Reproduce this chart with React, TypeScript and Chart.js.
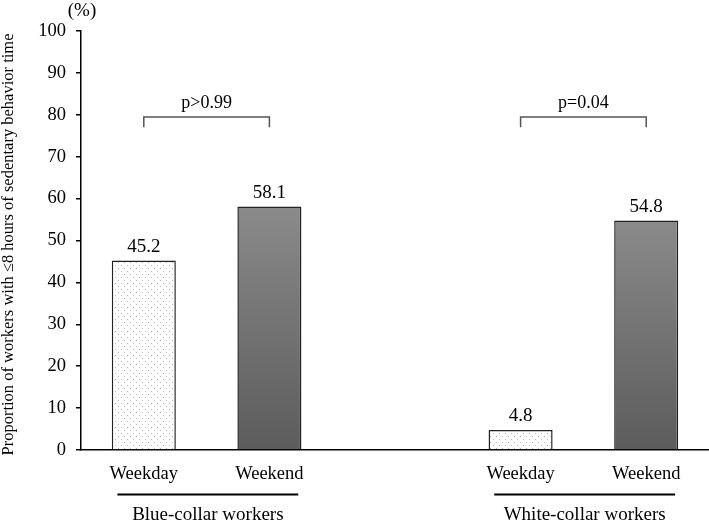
import React, { useEffect, useRef } from 'react';
import { Chart, registerables } from 'chart.js';
Chart.register(...registerables);

const FONT = "'Liberation Serif', 'Times New Roman', serif";

const categories = ['Weekday', 'Weekend', '', 'Weekday', 'Weekend'];
const values: (number | null)[] = [45.2, 58.1, null, 4.8, 54.8];
const groupNames = ['Blue-collar workers', 'White-collar workers'];
const groupMembers = [[0, 1], [3, 4]];
const pLabels = ['p>0.99', 'p=0.04'];
const bracketTop = 79.5;
const bracketFoot = 77.0;
const yMin = 0;
const yMax = 100;
const yStep = 10;
const yTitle = 'Proportion of workers with \u22648 hours of sedentary behavior time';
const yUnit = '(%)';

export default function App() {
  const ref = useRef<HTMLCanvasElement>(null);
  useEffect(() => {
    const canvas = ref.current!;
    const tile = document.createElement('canvas');
    tile.width = 6;
    tile.height = 6;
    const tc = tile.getContext('2d')!;
    tc.fillStyle = '#ffffff';
    tc.fillRect(0, 0, 6, 6);
    tc.fillStyle = '#b8b8b8';
    tc.fillRect(1, 1, 1, 1);
    tc.fillRect(4, 4, 1, 1);
    const ctx0 = canvas.getContext('2d')!;
    const pattern = ctx0.createPattern(tile, 'repeat');

    const annot = {
      id: 'annot',
      afterDraw(chart: any) {
        const { ctx, chartArea } = chart;
        const x = chart.scales.x;
        const y = chart.scales.y;
        ctx.save();
        ctx.fillStyle = '#000';
        // y title
        ctx.save();
        ctx.translate(13, (chartArea.top + chartArea.bottom) / 2 + 4);
        ctx.rotate(-Math.PI / 2);
        ctx.font = `16.5px ${FONT}`;
        ctx.textAlign = 'center';
        ctx.textBaseline = 'alphabetic';
        ctx.fillText(yTitle, 0, 0);
        ctx.restore();
        // unit
        ctx.font = `19px ${FONT}`;
        ctx.textAlign = 'center';
        ctx.textBaseline = 'alphabetic';
        ctx.fillText(yUnit, 82, 16);
        // value labels
        ctx.font = `19px ${FONT}`;
        values.forEach((v, i) => {
          if (v == null) return;
          ctx.fillText(v.toFixed(1), x.getPixelForValue(i), y.getPixelForValue(v) - 8.5);
        });
        // brackets
        ctx.strokeStyle = '#555';
        ctx.lineWidth = 1.5;
        groupMembers.forEach((g, k) => {
          const x1 = x.getPixelForValue(g[0]);
          const x2 = x.getPixelForValue(g[1]);
          const yt = y.getPixelForValue(bracketTop);
          const yf = y.getPixelForValue(bracketFoot);
          ctx.beginPath();
          ctx.moveTo(x1, yf);
          ctx.lineTo(x1, yt);
          ctx.lineTo(x2, yt);
          ctx.lineTo(x2, yf);
          ctx.stroke();
          ctx.font = `18px ${FONT}`;
          ctx.fillText(pLabels[k], (x1 + x2) / 2, yt - 9);
        });
        // group lines and names
        ctx.strokeStyle = '#000';
        ctx.lineWidth = 2;
        const slot = x.width / categories.length;
        groupMembers.forEach((g, k) => {
          const x1 = x.getPixelForValue(g[0]) - slot * 0.21;
          const x2 = x.getPixelForValue(g[1]) + slot * 0.23;
          ctx.beginPath();
          ctx.moveTo(x1, 494.5);
          ctx.lineTo(x2, 494.5);
          ctx.stroke();
          ctx.font = `19px ${FONT}`;
          ctx.fillText(groupNames[k], (x1 + x2) / 2, 520);
        });
        ctx.restore();
      },
    };

    const chart = new Chart(canvas, {
      type: 'bar',
      data: {
        labels: categories,
        datasets: [
          {
            data: values as any,
            backgroundColor: (c: any) => {
              const i = c.dataIndex;
              if (categories[i] === 'Weekday') return pattern;
              const ch = c.chart;
              const ys = ch.scales && ch.scales.y;
              if (!ys || !ch.chartArea) return '#777';
              const v = values[i] ?? 0;
              const g = ch.ctx.createLinearGradient(0, ys.getPixelForValue(v), 0, ys.getPixelForValue(0));
              g.addColorStop(0, '#8a8a8a');
              g.addColorStop(1, '#5c5c5c');
              return g;
            },
            borderColor: '#222',
            borderWidth: 1.5,
            barPercentage: 0.51,
            categoryPercentage: 1,
          },
        ],
      },
      options: {
        responsive: false,
        animation: false,
        layout: { padding: { top: 31, left: 0, right: 0, bottom: 0 } },
        plugins: { legend: { display: false }, tooltip: { enabled: false } },
        scales: {
          x: {
            grid: { display: false },
            border: { display: true, color: '#000', width: 1.5 },
            ticks: { color: '#000', font: { family: FONT, size: 18.5 }, padding: 5 },
            afterFit: (s: any) => {
              s.height = 72;
            },
          },
          y: {
            min: yMin,
            max: yMax,
            ticks: { stepSize: yStep, color: '#000', font: { family: FONT, size: 18.5 }, padding: 10 },
            grid: { drawOnChartArea: false, drawTicks: true, tickLength: 5, color: '#000', lineWidth: 1.5 },
            border: { display: true, color: '#000', width: 1.5 },
            afterFit: (s: any) => {
              s.width = 81;
            },
          },
        },
      },
      plugins: [annot],
    });
    return () => chart.destroy();
  }, []);
  return (
    <div style={{ position: 'absolute', left: 0, top: 0, width: 709, height: 522, background: '#fff' }}>
      <canvas ref={ref} width={709} height={522} style={{ display: 'block' }} />
    </div>
  );
}
